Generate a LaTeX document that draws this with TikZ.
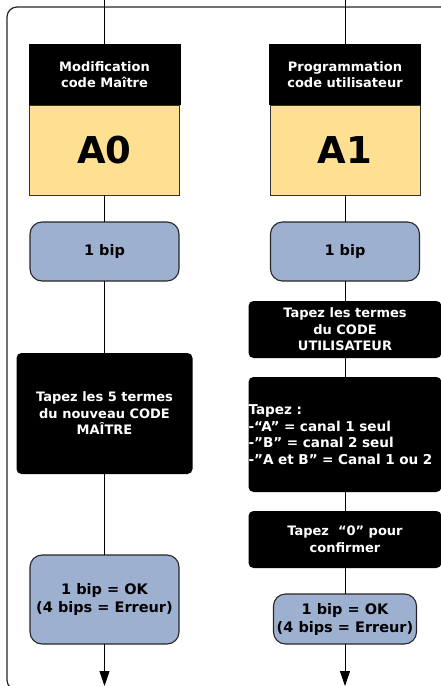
\documentclass[tikz,border=0pt]{standalone}
\usepackage{fontspec}
\setmainfont{DejaVu Sans}
\usetikzlibrary{arrows.meta}
\usetikzlibrary{positioning}

\definecolor{codeyellow}{RGB}{255,224,146}
\definecolor{bipblue}{RGB}{157,176,207}

\begin{document}
\begin{tikzpicture}[
		x=1pt, y=1pt,
		node distance=27pt,
		every node/.style={outer sep=0pt, inner sep=2pt, align=center, font=\bfseries\fontsize{13}{16.5}\selectfont},
		head/.style={fill=black, text=white, minimum width=152pt, minimum height=61pt},
		code/.style={draw=black!80, fill=codeyellow, minimum width=150pt, minimum height=90pt, font=\bfseries\fontsize{37}{40}\selectfont},
		bip/.style={draw=black!85, line width=1.1pt, fill=bipblue, rounded corners=12pt, minimum width=149pt, font=\bfseries\fontsize{14.5}{18}\selectfont},
		blackbox/.style={fill=black, text=white, rounded corners=5pt, minimum width=193pt},
		link/.style={draw=black, line width=0.9pt},
		arrow/.style={-{Triangle[length=15pt, width=10pt]}},
	]
	\useasboundingbox (0,0) rectangle (441,-686);
	\draw[draw=black!85, line width=1.2pt, rounded corners=10pt] (7,-7) rectangle (452,-690);

	% left column : code maitre
	\coordinate (topA) at (104.5,0);
	\node[head] (hA) at (104.5,-74.5) {Modification\\code Maître};
	\node[code, below=0pt of hA] (cA) {A0};
	\node[bip, minimum height=59pt, below=27pt of cA] (bA1) {1 bip};
	\node[blackbox, minimum width=176pt, minimum height=121pt, below=72pt of bA1] (tA) {Tapez les 5 termes\\du nouveau CODE\\MAÎTRE};
	\node[bip, minimum height=89pt, below=81pt of tA] (bA2) {1 bip = OK\\(4 bips = Erreur)};
	\coordinate (endA) at (104.5,-686);

	% right column : code utilisateur
	\coordinate (topB) at (345,0);
	\node[head] (hB) at (345,-74.5) {Programmation\\code utilisateur};
	\node[code, below=0pt of hB] (cB) {A1};
	\node[bip, minimum height=59pt, below=27pt of cB] (bB1) {1 bip};
	\node[blackbox, minimum height=57pt, below=20pt of bB1] (tB1) {Tapez les termes\\du CODE\\UTILISATEUR};
	\node[blackbox, align=left, text width=193pt, inner xsep=0pt, minimum height=115pt, below=19pt of tB1, font=\bfseries\fontsize{13.6}{16.7}\selectfont] (tB2) {Tapez :\\-“A” = canal 1 seul\\-”B” = canal 2 seul\\-”A et B” = Canal 1 ou 2};
	\node[blackbox, minimum height=57pt, below=19pt of tB2] (tB3) {Tapez~ “0” pour\\confirmer};
	\node[bip, minimum width=143pt, minimum height=50pt, below=26pt of tB3] (bB2) {1 bip = OK\\(4 bips = Erreur)};
	\coordinate (endB) at (345,-686);

	\draw[link] (topA) -- (hA);
	\draw[link] (cA) -- (bA1);
	\draw[link] (bA1) -- (tA);
	\draw[link] (tA) -- (bA2);
	\draw[link, arrow] (bA2) -- (endA);

	\draw[link] (topB) -- (hB);
	\draw[link] (cB) -- (bB1);
	\draw[link] (bB1) -- (tB1);
	\draw[link] (tB1) -- (tB2);
	\draw[link] (tB2) -- (tB3);
	\draw[link] (tB3) -- (bB2);
	\draw[link, arrow] (bB2) -- (endB);
\end{tikzpicture}
\end{document}
